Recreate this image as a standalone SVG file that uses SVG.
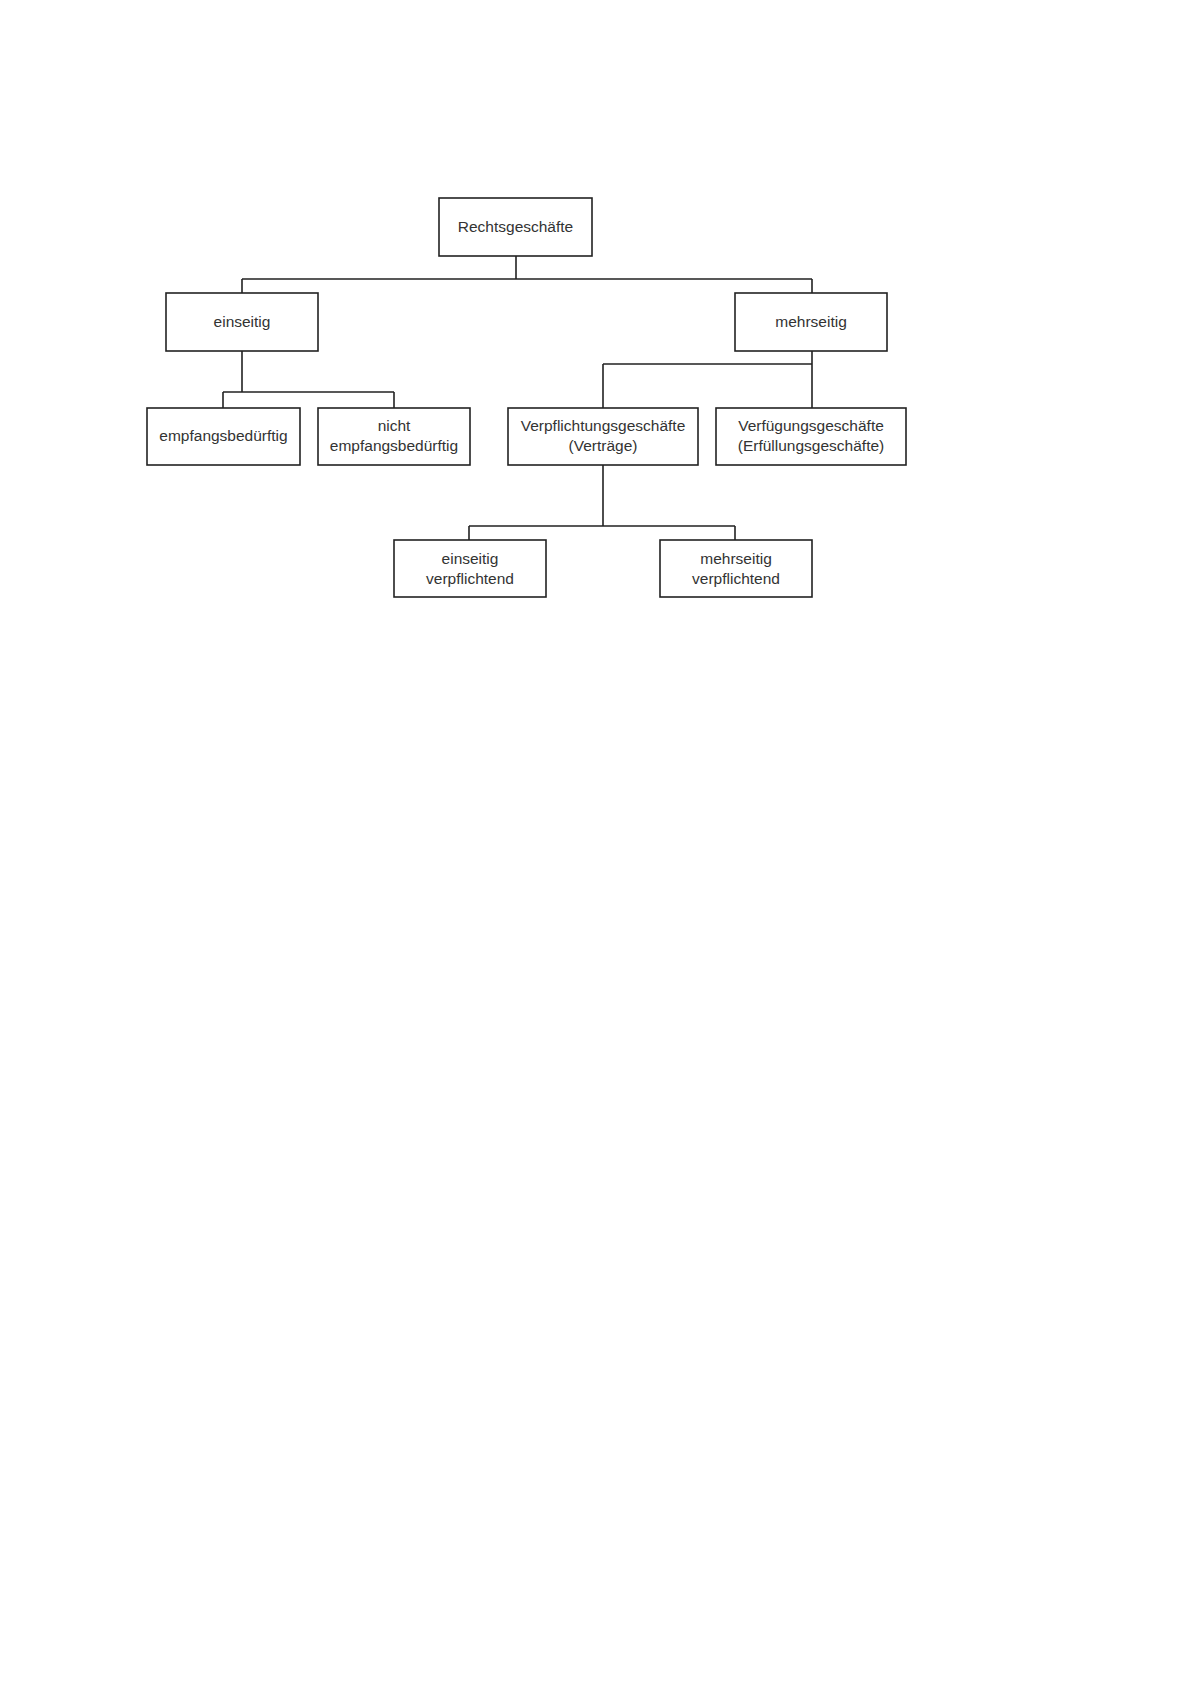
<svg xmlns="http://www.w3.org/2000/svg" width="1191" height="1684" viewBox="0 0 1191 1684">
<style>
.box{fill:#fff;stroke:#222;stroke-width:1.6}
.lbl{font-family:"Liberation Sans",Arial,sans-serif;font-size:15.5px;fill:#333;text-anchor:middle}
.con{fill:none;stroke:#222;stroke-width:1.6}
</style>
<rect width="1191" height="1684" fill="#fff"/>
<g id="connectors">
<path class="con" d="M516,256 V279 M242,279 H812 M242,279 V293 M812,279 V293"/>
<path class="con" d="M242,351 V392 M223,392 H394 M223,392 V408 M394,392 V408"/>
<path class="con" d="M812,351 V408 M603,364 H812 M603,364 V408"/>
<path class="con" d="M603,465 V526 M469,526 H735 M469,526 V540 M735,526 V540"/>
</g>
<g id="n-rechtsgeschaefte"><rect class="box" x="439" y="198" width="153" height="58"/><text class="lbl" x="515.5" y="232">Rechtsgeschäfte</text></g>
<g id="n-einseitig"><rect class="box" x="166" y="293" width="152" height="58"/><text class="lbl" x="242" y="327">einseitig</text></g>
<g id="n-mehrseitig"><rect class="box" x="735" y="293" width="152" height="58"/><text class="lbl" x="811" y="327">mehrseitig</text></g>
<g id="n-empfangsbeduerftig"><rect class="box" x="147" y="408" width="153" height="57"/><text class="lbl" x="223.5" y="441">empfangsbedürftig</text></g>
<g id="n-nicht-empfangsbeduerftig"><rect class="box" x="318" y="408" width="152" height="57"/><text class="lbl" x="394" y="431">nicht</text><text class="lbl" x="394" y="451">empfangsbedürftig</text></g>
<g id="n-verpflichtungsgeschaefte"><rect class="box" x="508" y="408" width="190" height="57"/><text class="lbl" x="603" y="431">Verpflichtungsgeschäfte</text><text class="lbl" x="603" y="451">(Verträge)</text></g>
<g id="n-verfuegungsgeschaefte"><rect class="box" x="716" y="408" width="190" height="57"/><text class="lbl" x="811" y="431">Verfügungsgeschäfte</text><text class="lbl" x="811" y="451">(Erfüllungsgeschäfte)</text></g>
<g id="n-einseitig-verpflichtend"><rect class="box" x="394" y="540" width="152" height="57"/><text class="lbl" x="470" y="564">einseitig</text><text class="lbl" x="470" y="584">verpflichtend</text></g>
<g id="n-mehrseitig-verpflichtend"><rect class="box" x="660" y="540" width="152" height="57"/><text class="lbl" x="736" y="564">mehrseitig</text><text class="lbl" x="736" y="584">verpflichtend</text></g>
</svg>
